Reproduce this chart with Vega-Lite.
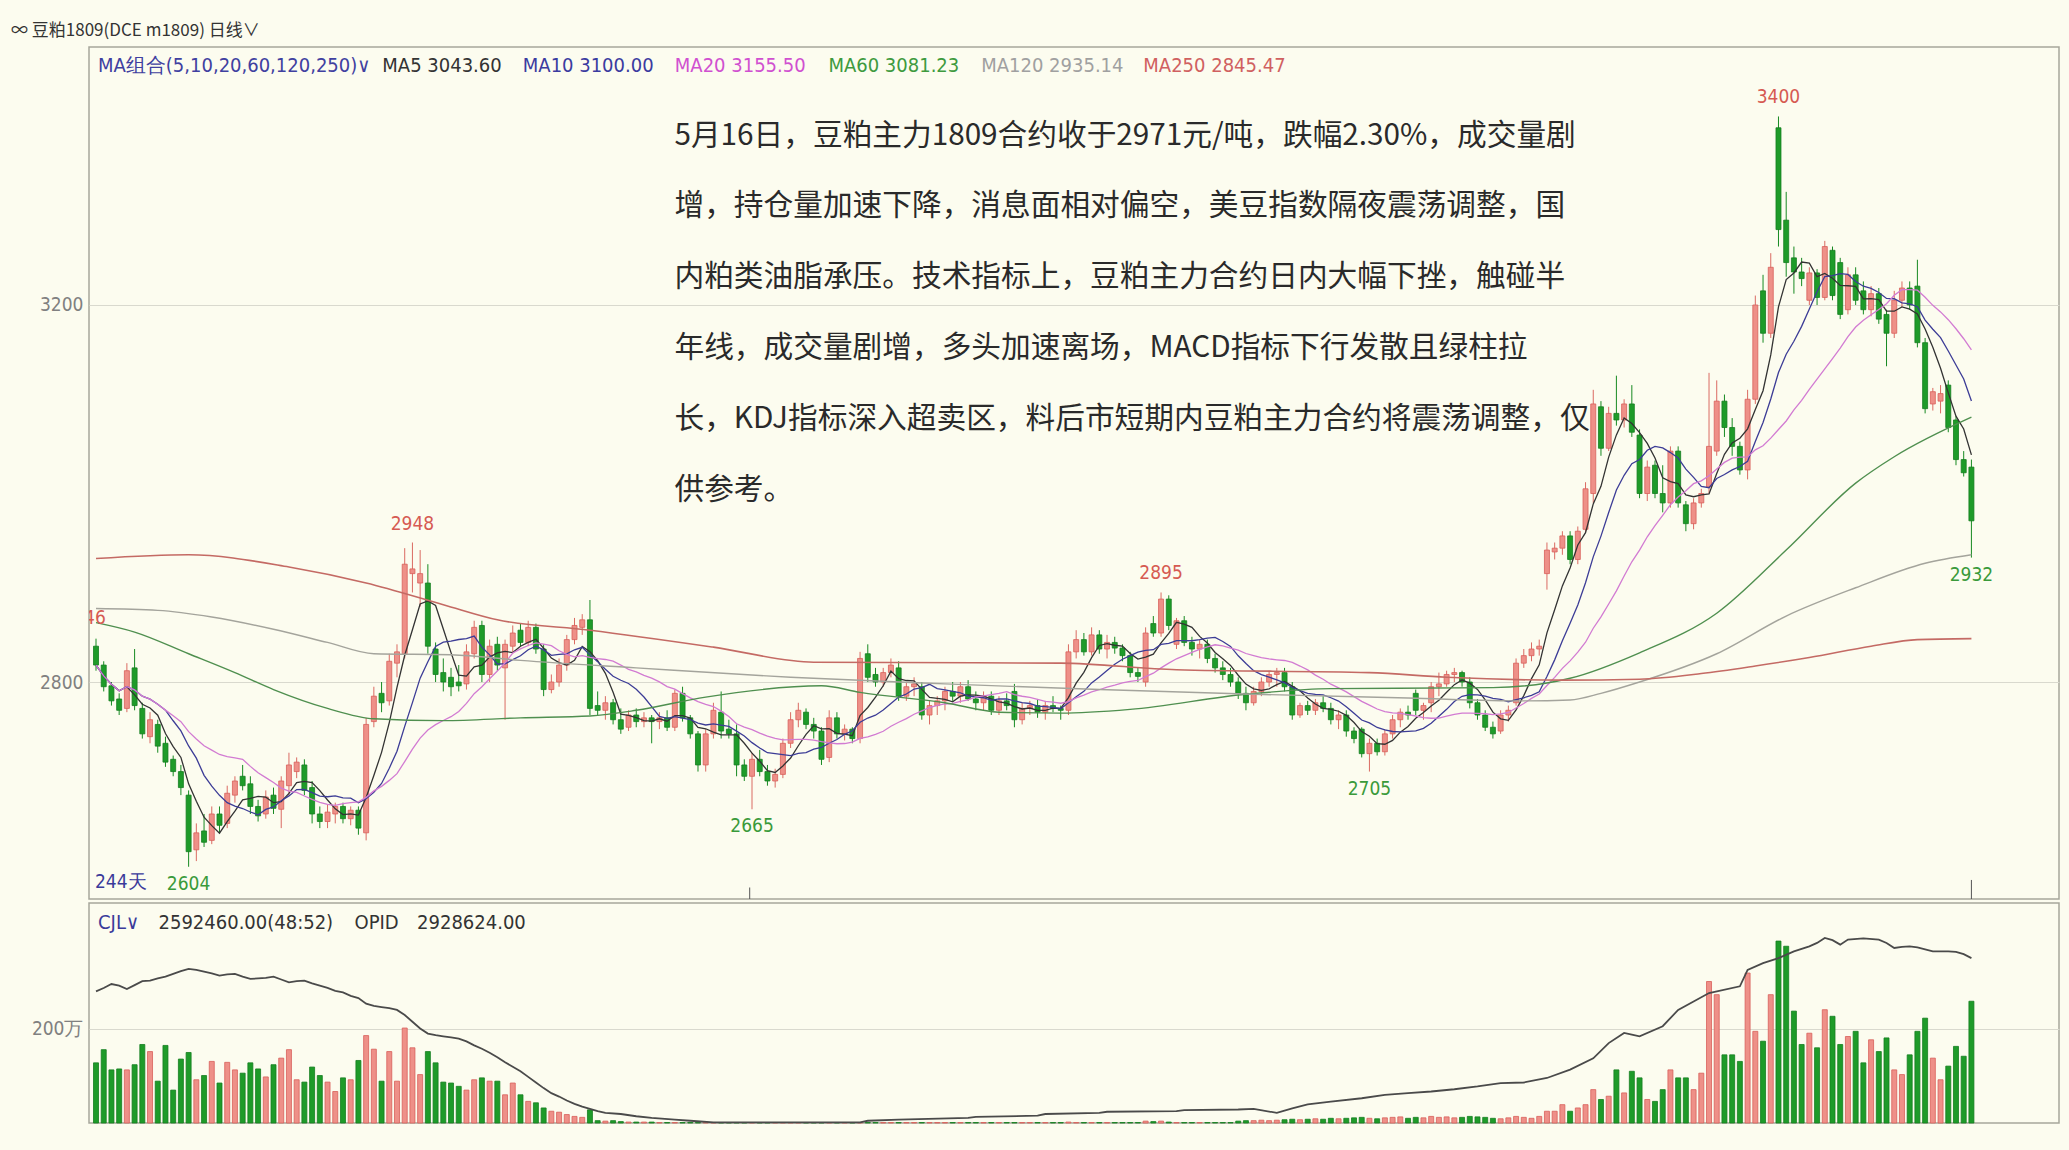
{
"$schema":"https://vega.github.io/schema/vega-lite/v6.json",
"background":"#FCFCEF",
"padding":{"left":10,"top":22,"right":11,"bottom":28},
"spacing":1,
"title":{"text":"∞ 豆粕1809(DCE m1809)  日线∨","anchor":"start","frame":"group","dx":-78,"fontSize":17,"font":"Noto Sans CJK SC","fontWeight":"normal","color":"#333333","offset":6},
"config":{"view":{"stroke":"#A6A69C","strokeWidth":1.5},"axis":{"title":null,"labelFont":"Liberation Sans Narrow, DejaVu Sans Condensed, sans-serif"},"text":{"font":"Liberation Sans Narrow, DejaVu Sans Condensed, sans-serif"}},
"datasets":{
"k":[
{"i":0,"o":2838,"h":2846,"l":2812,"c":2818,"v":128},{"i":1,"o":2818,"h":2822,"l":2790,"c":2795,"v":156},{"i":2,"o":2796,"h":2800,"l":2775,"c":2780,"v":113},{"i":3,"o":2782,"h":2788,"l":2765,"c":2770,"v":115},{"i":4,"o":2772,"h":2820,"l":2768,"c":2812,"v":113},{"i":5,"o":2815,"h":2835,"l":2770,"c":2775,"v":124},{"i":6,"o":2772,"h":2778,"l":2740,"c":2745,"v":167},{"i":7,"o":2742,"h":2768,"l":2735,"c":2760,"v":152},{"i":8,"o":2755,"h":2760,"l":2725,"c":2732,"v":89},{"i":9,"o":2735,"h":2742,"l":2710,"c":2715,"v":165},
{"i":10,"o":2718,"h":2722,"l":2700,"c":2705,"v":70},{"i":11,"o":2705,"h":2712,"l":2680,"c":2688,"v":136},{"i":12,"o":2680,"h":2685,"l":2604,"c":2620,"v":150},{"i":13,"o":2622,"h":2650,"l":2610,"c":2640,"v":92},{"i":14,"o":2642,"h":2660,"l":2625,"c":2630,"v":101},{"i":15,"o":2632,"h":2668,"l":2628,"c":2660,"v":131},{"i":16,"o":2660,"h":2668,"l":2640,"c":2648,"v":85},{"i":17,"o":2650,"h":2690,"l":2645,"c":2682,"v":129},{"i":18,"o":2680,"h":2700,"l":2672,"c":2695,"v":113},{"i":19,"o":2700,"h":2712,"l":2685,"c":2690,"v":106},
{"i":20,"o":2692,"h":2700,"l":2660,"c":2668,"v":128},{"i":21,"o":2668,"h":2675,"l":2652,"c":2658,"v":115},{"i":22,"o":2660,"h":2685,"l":2655,"c":2678,"v":98},{"i":23,"o":2680,"h":2688,"l":2660,"c":2666,"v":124},{"i":24,"o":2665,"h":2700,"l":2645,"c":2695,"v":138},{"i":25,"o":2690,"h":2725,"l":2680,"c":2712,"v":156},{"i":26,"o":2705,"h":2720,"l":2698,"c":2715,"v":92},{"i":27,"o":2712,"h":2718,"l":2680,"c":2685,"v":87},{"i":28,"o":2688,"h":2695,"l":2650,"c":2660,"v":119},{"i":29,"o":2660,"h":2668,"l":2645,"c":2652,"v":101},
{"i":30,"o":2652,"h":2670,"l":2645,"c":2662,"v":87},{"i":31,"o":2660,"h":2672,"l":2650,"c":2668,"v":67},{"i":32,"o":2668,"h":2672,"l":2650,"c":2655,"v":96},{"i":33,"o":2655,"h":2668,"l":2648,"c":2664,"v":92},{"i":34,"o":2664,"h":2668,"l":2638,"c":2645,"v":133},{"i":35,"o":2640,"h":2762,"l":2632,"c":2755,"v":186},{"i":36,"o":2758,"h":2795,"l":2752,"c":2785,"v":157},{"i":37,"o":2788,"h":2800,"l":2768,"c":2778,"v":89},{"i":38,"o":2780,"h":2830,"l":2775,"c":2822,"v":152},{"i":39,"o":2820,"h":2840,"l":2805,"c":2832,"v":89},
{"i":40,"o":2830,"h":2942,"l":2825,"c":2925,"v":202},{"i":41,"o":2915,"h":2948,"l":2895,"c":2920,"v":160},{"i":42,"o":2905,"h":2940,"l":2880,"c":2915,"v":103},{"i":43,"o":2905,"h":2925,"l":2830,"c":2838,"v":152},{"i":44,"o":2835,"h":2842,"l":2800,"c":2808,"v":128},{"i":45,"o":2810,"h":2825,"l":2790,"c":2800,"v":87},{"i":46,"o":2805,"h":2815,"l":2785,"c":2795,"v":85},{"i":47,"o":2800,"h":2818,"l":2790,"c":2796,"v":78},{"i":48,"o":2798,"h":2840,"l":2792,"c":2832,"v":70},{"i":49,"o":2830,"h":2865,"l":2825,"c":2858,"v":92},
{"i":50,"o":2860,"h":2865,"l":2800,"c":2808,"v":96},{"i":51,"o":2808,"h":2845,"l":2800,"c":2838,"v":89},{"i":52,"o":2840,"h":2848,"l":2812,"c":2818,"v":89},{"i":53,"o":2815,"h":2845,"l":2760,"c":2840,"v":60},{"i":54,"o":2838,"h":2860,"l":2830,"c":2852,"v":85},{"i":55,"o":2855,"h":2862,"l":2838,"c":2842,"v":60},{"i":56,"o":2842,"h":2865,"l":2838,"c":2858,"v":46},{"i":57,"o":2858,"h":2862,"l":2830,"c":2835,"v":43},{"i":58,"o":2835,"h":2840,"l":2785,"c":2792,"v":32},{"i":59,"o":2792,"h":2808,"l":2788,"c":2800,"v":25},
{"i":60,"o":2800,"h":2825,"l":2795,"c":2818,"v":23},{"i":61,"o":2818,"h":2850,"l":2812,"c":2845,"v":18},{"i":62,"o":2845,"h":2868,"l":2840,"c":2860,"v":14},{"i":63,"o":2858,"h":2872,"l":2850,"c":2866,"v":12},{"i":64,"o":2866,"h":2887,"l":2765,"c":2772,"v":28},{"i":65,"o":2775,"h":2790,"l":2765,"c":2770,"v":5},{"i":66,"o":2770,"h":2785,"l":2760,"c":2778,"v":4},{"i":67,"o":2778,"h":2782,"l":2755,"c":2760,"v":5},{"i":68,"o":2760,"h":2772,"l":2745,"c":2750,"v":3},{"i":69,"o":2752,"h":2770,"l":2748,"c":2765,"v":2},
{"i":70,"o":2765,"h":2772,"l":2752,"c":2758,"v":2},{"i":71,"o":2758,"h":2768,"l":2752,"c":2762,"v":2},{"i":72,"o":2762,"h":2765,"l":2735,"c":2758,"v":2},{"i":73,"o":2758,"h":2768,"l":2750,"c":2762,"v":1},{"i":74,"o":2762,"h":2770,"l":2748,"c":2752,"v":1},{"i":75,"o":2752,"h":2792,"l":2748,"c":2788,"v":1},{"i":76,"o":2788,"h":2795,"l":2758,"c":2762,"v":1},{"i":77,"o":2762,"h":2765,"l":2740,"c":2745,"v":1},{"i":78,"o":2745,"h":2748,"l":2705,"c":2712,"v":1},{"i":79,"o":2712,"h":2750,"l":2705,"c":2745,"v":1},
{"i":80,"o":2745,"h":2778,"l":2740,"c":2770,"v":1},{"i":81,"o":2768,"h":2790,"l":2740,"c":2748,"v":1},{"i":82,"o":2750,"h":2760,"l":2740,"c":2745,"v":1},{"i":83,"o":2745,"h":2755,"l":2700,"c":2712,"v":1},{"i":84,"o":2712,"h":2718,"l":2695,"c":2700,"v":1},{"i":85,"o":2700,"h":2725,"l":2665,"c":2718,"v":1},{"i":86,"o":2718,"h":2728,"l":2700,"c":2705,"v":1},{"i":87,"o":2705,"h":2712,"l":2690,"c":2695,"v":1},{"i":88,"o":2695,"h":2708,"l":2688,"c":2702,"v":1},{"i":89,"o":2702,"h":2740,"l":2698,"c":2735,"v":1},
{"i":90,"o":2735,"h":2768,"l":2730,"c":2760,"v":1},{"i":91,"o":2760,"h":2778,"l":2752,"c":2770,"v":1},{"i":92,"o":2768,"h":2772,"l":2750,"c":2755,"v":1},{"i":93,"o":2755,"h":2762,"l":2740,"c":2748,"v":1},{"i":94,"o":2748,"h":2752,"l":2712,"c":2718,"v":1},{"i":95,"o":2720,"h":2770,"l":2715,"c":2762,"v":1},{"i":96,"o":2762,"h":2768,"l":2740,"c":2745,"v":1},{"i":97,"o":2745,"h":2755,"l":2738,"c":2750,"v":1},{"i":98,"o":2750,"h":2752,"l":2735,"c":2740,"v":1},{"i":99,"o":2740,"h":2832,"l":2735,"c":2825,"v":1},
{"i":100,"o":2830,"h":2840,"l":2800,"c":2805,"v":1},{"i":101,"o":2808,"h":2815,"l":2795,"c":2800,"v":1},{"i":102,"o":2800,"h":2815,"l":2795,"c":2810,"v":1},{"i":103,"o":2810,"h":2825,"l":2805,"c":2818,"v":1},{"i":104,"o":2815,"h":2822,"l":2780,"c":2785,"v":1},{"i":105,"o":2785,"h":2800,"l":2780,"c":2795,"v":1},{"i":106,"o":2795,"h":2805,"l":2785,"c":2798,"v":1},{"i":107,"o":2795,"h":2800,"l":2760,"c":2765,"v":1},{"i":108,"o":2765,"h":2780,"l":2755,"c":2775,"v":1},{"i":109,"o":2775,"h":2785,"l":2765,"c":2780,"v":1},
{"i":110,"o":2780,"h":2795,"l":2770,"c":2790,"v":1},{"i":111,"o":2790,"h":2800,"l":2780,"c":2785,"v":1},{"i":112,"o":2785,"h":2800,"l":2778,"c":2795,"v":1},{"i":113,"o":2795,"h":2802,"l":2780,"c":2782,"v":1},{"i":114,"o":2782,"h":2790,"l":2770,"c":2778,"v":1},{"i":115,"o":2778,"h":2790,"l":2770,"c":2785,"v":1},{"i":116,"o":2785,"h":2790,"l":2765,"c":2770,"v":1},{"i":117,"o":2770,"h":2785,"l":2765,"c":2780,"v":1},{"i":118,"o":2780,"h":2788,"l":2770,"c":2775,"v":1},{"i":119,"o":2790,"h":2798,"l":2752,"c":2760,"v":1},
{"i":120,"o":2760,"h":2778,"l":2755,"c":2772,"v":1},{"i":121,"o":2772,"h":2780,"l":2765,"c":2775,"v":1},{"i":122,"o":2775,"h":2782,"l":2762,"c":2768,"v":1},{"i":123,"o":2768,"h":2780,"l":2760,"c":2775,"v":1},{"i":124,"o":2775,"h":2785,"l":2768,"c":2772,"v":1},{"i":125,"o":2772,"h":2775,"l":2760,"c":2770,"v":1},{"i":126,"o":2770,"h":2840,"l":2765,"c":2832,"v":2},{"i":127,"o":2832,"h":2855,"l":2825,"c":2845,"v":1},{"i":128,"o":2845,"h":2852,"l":2828,"c":2832,"v":1},{"i":129,"o":2832,"h":2858,"l":2828,"c":2850,"v":1},
{"i":130,"o":2850,"h":2855,"l":2830,"c":2835,"v":1},{"i":131,"o":2835,"h":2850,"l":2825,"c":2842,"v":1},{"i":132,"o":2842,"h":2848,"l":2830,"c":2836,"v":1},{"i":133,"o":2836,"h":2840,"l":2822,"c":2828,"v":1},{"i":134,"o":2828,"h":2832,"l":2805,"c":2810,"v":1},{"i":135,"o":2810,"h":2815,"l":2800,"c":2806,"v":1},{"i":136,"o":2800,"h":2858,"l":2795,"c":2852,"v":4},{"i":137,"o":2862,"h":2870,"l":2848,"c":2852,"v":3},{"i":138,"o":2852,"h":2895,"l":2848,"c":2888,"v":4},{"i":139,"o":2888,"h":2892,"l":2855,"c":2860,"v":2},
{"i":140,"o":2840,"h":2868,"l":2835,"c":2865,"v":1},{"i":141,"o":2865,"h":2870,"l":2838,"c":2842,"v":1},{"i":142,"o":2842,"h":2848,"l":2828,"c":2835,"v":1},{"i":143,"o":2835,"h":2845,"l":2825,"c":2840,"v":1},{"i":144,"o":2840,"h":2845,"l":2820,"c":2825,"v":1},{"i":145,"o":2825,"h":2830,"l":2810,"c":2815,"v":1},{"i":146,"o":2815,"h":2822,"l":2802,"c":2808,"v":1},{"i":147,"o":2808,"h":2815,"l":2795,"c":2800,"v":1},{"i":148,"o":2800,"h":2805,"l":2782,"c":2788,"v":4},{"i":149,"o":2788,"h":2795,"l":2770,"c":2778,"v":5},
{"i":150,"o":2778,"h":2795,"l":2775,"c":2790,"v":5},{"i":151,"o":2790,"h":2805,"l":2785,"c":2800,"v":6},{"i":152,"o":2800,"h":2812,"l":2795,"c":2808,"v":5},{"i":153,"o":2808,"h":2815,"l":2795,"c":2810,"v":6},{"i":154,"o":2810,"h":2815,"l":2790,"c":2795,"v":7},{"i":155,"o":2795,"h":2800,"l":2760,"c":2765,"v":8},{"i":156,"o":2765,"h":2778,"l":2762,"c":2775,"v":7},{"i":157,"o":2775,"h":2780,"l":2765,"c":2770,"v":8},{"i":158,"o":2770,"h":2782,"l":2765,"c":2778,"v":9},{"i":159,"o":2778,"h":2785,"l":2768,"c":2772,"v":8},
{"i":160,"o":2772,"h":2778,"l":2755,"c":2760,"v":10},{"i":161,"o":2760,"h":2770,"l":2750,"c":2765,"v":9},{"i":162,"o":2765,"h":2770,"l":2742,"c":2748,"v":10},{"i":163,"o":2748,"h":2752,"l":2735,"c":2740,"v":11},{"i":164,"o":2750,"h":2752,"l":2720,"c":2724,"v":12},{"i":165,"o":2724,"h":2740,"l":2705,"c":2735,"v":10},{"i":166,"o":2735,"h":2740,"l":2722,"c":2726,"v":9},{"i":167,"o":2726,"h":2750,"l":2722,"c":2745,"v":11},{"i":168,"o":2745,"h":2765,"l":2740,"c":2760,"v":12},{"i":169,"o":2760,"h":2772,"l":2752,"c":2768,"v":13},
{"i":170,"o":2768,"h":2775,"l":2760,"c":2765,"v":10},{"i":171,"o":2788,"h":2792,"l":2765,"c":2770,"v":12},{"i":172,"o":2770,"h":2778,"l":2760,"c":2775,"v":11},{"i":173,"o":2778,"h":2800,"l":2768,"c":2795,"v":14},{"i":174,"o":2795,"h":2810,"l":2785,"c":2798,"v":12},{"i":175,"o":2798,"h":2812,"l":2795,"c":2808,"v":13},{"i":176,"o":2808,"h":2815,"l":2800,"c":2810,"v":11},{"i":177,"o":2810,"h":2812,"l":2795,"c":2800,"v":12},{"i":178,"o":2800,"h":2805,"l":2772,"c":2778,"v":14},{"i":179,"o":2778,"h":2782,"l":2760,"c":2765,"v":13},
{"i":180,"o":2765,"h":2770,"l":2748,"c":2752,"v":12},{"i":181,"o":2752,"h":2758,"l":2740,"c":2745,"v":10},{"i":182,"o":2748,"h":2770,"l":2745,"c":2765,"v":9},{"i":183,"o":2765,"h":2775,"l":2758,"c":2770,"v":11},{"i":184,"o":2778,"h":2825,"l":2775,"c":2820,"v":14},{"i":185,"o":2820,"h":2835,"l":2815,"c":2828,"v":12},{"i":186,"o":2828,"h":2842,"l":2822,"c":2835,"v":10},{"i":187,"o":2835,"h":2845,"l":2828,"c":2838,"v":14},{"i":188,"o":2915,"h":2948,"l":2898,"c":2940,"v":25},{"i":189,"o":2938,"h":2948,"l":2930,"c":2942,"v":25},
{"i":190,"o":2942,"h":2960,"l":2935,"c":2955,"v":39},{"i":191,"o":2955,"h":2960,"l":2925,"c":2930,"v":25},{"i":192,"o":2930,"h":2965,"l":2925,"c":2960,"v":32},{"i":193,"o":2962,"h":3012,"l":2958,"c":3005,"v":39},{"i":194,"o":3000,"h":3110,"l":2990,"c":3095,"v":71},{"i":195,"o":3092,"h":3098,"l":3040,"c":3048,"v":50},{"i":196,"o":3048,"h":3092,"l":3045,"c":3085,"v":57},{"i":197,"o":3085,"h":3125,"l":3072,"c":3078,"v":113},{"i":198,"o":3078,"h":3100,"l":3070,"c":3095,"v":64},{"i":199,"o":3095,"h":3115,"l":3060,"c":3065,"v":110},
{"i":200,"o":3062,"h":3068,"l":2995,"c":3000,"v":96},{"i":201,"o":3000,"h":3035,"l":2992,"c":3028,"v":50},{"i":202,"o":3030,"h":3035,"l":2995,"c":3000,"v":46},{"i":203,"o":3000,"h":3030,"l":2980,"c":2990,"v":71},{"i":204,"o":2990,"h":3050,"l":2985,"c":3045,"v":113},{"i":205,"o":3045,"h":3050,"l":2985,"c":2990,"v":96},{"i":206,"o":2988,"h":2992,"l":2960,"c":2968,"v":96},{"i":207,"o":2968,"h":2995,"l":2962,"c":2990,"v":71},{"i":208,"o":2990,"h":3005,"l":2985,"c":3000,"v":106},{"i":209,"o":3007,"h":3128,"l":3000,"c":3050,"v":301},
{"i":210,"o":3045,"h":3120,"l":3040,"c":3098,"v":273},{"i":211,"o":3098,"h":3105,"l":3060,"c":3070,"v":145},{"i":212,"o":3070,"h":3080,"l":3040,"c":3050,"v":145},{"i":213,"o":3050,"h":3055,"l":3020,"c":3025,"v":131},{"i":214,"o":3025,"h":3110,"l":3015,"c":3100,"v":319},{"i":215,"o":3100,"h":3210,"l":3095,"c":3200,"v":195},{"i":216,"o":3215,"h":3232,"l":3160,"c":3170,"v":174},{"i":217,"o":3170,"h":3255,"l":3165,"c":3240,"v":273},{"i":218,"o":3388,"h":3400,"l":3262,"c":3280,"v":387},{"i":219,"o":3290,"h":3320,"l":3230,"c":3245,"v":376},
{"i":220,"o":3250,"h":3262,"l":3212,"c":3235,"v":238},{"i":221,"o":3235,"h":3250,"l":3220,"c":3228,"v":167},{"i":222,"o":3205,"h":3240,"l":3200,"c":3234,"v":191},{"i":223,"o":3234,"h":3238,"l":3200,"c":3208,"v":160},{"i":224,"o":3208,"h":3268,"l":3205,"c":3262,"v":241},{"i":225,"o":3258,"h":3262,"l":3205,"c":3210,"v":227},{"i":226,"o":3245,"h":3250,"l":3185,"c":3190,"v":167},{"i":227,"o":3195,"h":3240,"l":3190,"c":3232,"v":184},{"i":228,"o":3232,"h":3240,"l":3200,"c":3205,"v":195},{"i":229,"o":3215,"h":3225,"l":3190,"c":3195,"v":128},
{"i":230,"o":3195,"h":3220,"l":3188,"c":3212,"v":177},{"i":231,"o":3212,"h":3218,"l":3180,"c":3185,"v":152},{"i":232,"o":3190,"h":3195,"l":3135,"c":3170,"v":181},{"i":233,"o":3170,"h":3215,"l":3165,"c":3205,"v":113},{"i":234,"o":3205,"h":3225,"l":3198,"c":3218,"v":103},{"i":235,"o":3218,"h":3225,"l":3195,"c":3200,"v":145},{"i":236,"o":3220,"h":3248,"l":3155,"c":3160,"v":195},{"i":237,"o":3160,"h":3165,"l":3085,"c":3090,"v":223},{"i":238,"o":3095,"h":3112,"l":3088,"c":3108,"v":138},{"i":239,"o":3098,"h":3115,"l":3085,"c":3106,"v":92},
{"i":240,"o":3115,"h":3120,"l":3065,"c":3070,"v":121},{"i":241,"o":3078,"h":3082,"l":3030,"c":3036,"v":163},{"i":242,"o":3036,"h":3045,"l":3018,"c":3022,"v":142},{"i":243,"o":3028,"h":3036,"l":2932,"c":2971,"v":259}
],
"ma60":[{"i":0,"m":2863},{"i":5,"m":2853},{"i":12,"m":2830},{"i":18,"m":2810},{"i":23,"m":2792},{"i":30,"m":2772},{"i":36,"m":2761},{"i":45,"m":2759},{"i":55,"m":2762},{"i":64,"m":2764},{"i":70,"m":2770},{"i":79,"m":2784},{"i":94,"m":2796},{"i":99,"m":2789},{"i":110,"m":2778},{"i":117,"m":2768},{"i":125,"m":2767},{"i":134,"m":2771},{"i":149,"m":2787},{"i":160,"m":2793},{"i":181,"m":2794},{"i":191,"m":2804},{"i":200,"m":2831},{"i":210,"m":2873},{"i":219,"m":2940},{"i":228,"m":3011},{"i":233,"m":3039},{"i":243,"m":3081}],
"ma120":[{"i":0,"m":2878},{"i":8,"m":2876},{"i":15,"m":2869},{"i":23,"m":2856},{"i":30,"m":2842},{"i":36,"m":2830},{"i":46,"m":2829},{"i":55,"m":2823},{"i":70,"m":2815},{"i":90,"m":2805},{"i":110,"m":2798},{"i":130,"m":2792},{"i":150,"m":2787},{"i":170,"m":2783},{"i":185,"m":2780},{"i":191,"m":2781},{"i":195,"m":2788},{"i":200,"m":2800},{"i":210,"m":2830},{"i":219,"m":2870},{"i":228,"m":2900},{"i":237,"m":2926},{"i":243,"m":2935}],
"ma250":[{"i":0,"m":2931},{"i":12,"m":2935},{"i":25,"m":2922},{"i":35,"m":2905},{"i":45,"m":2882},{"i":52,"m":2866},{"i":64,"m":2855},{"i":80,"m":2837},{"i":93,"m":2821},{"i":125,"m":2820},{"i":140,"m":2813},{"i":165,"m":2810},{"i":175,"m":2805},{"i":190,"m":2802},{"i":200,"m":2803},{"i":208,"m":2809},{"i":215,"m":2817},{"i":222,"m":2826},{"i":230,"m":2838},{"i":236,"m":2845},{"i":243,"m":2846}],
"oi":[{"i":0,"m":234},{"i":1,"m":240},{"i":2,"m":247},{"i":3,"m":244},{"i":4,"m":238},{"i":5,"m":245},{"i":6,"m":252},{"i":7,"m":253},{"i":8,"m":257},{"i":9,"m":260},{"i":10,"m":265},{"i":11,"m":270},{"i":12,"m":274},{"i":13,"m":272},{"i":14,"m":269},{"i":15,"m":266},{"i":16,"m":262},{"i":17,"m":264},{"i":18,"m":265},{"i":19,"m":260},{"i":20,"m":256},{"i":21,"m":257},{"i":22,"m":258},{"i":23,"m":260},{"i":24,"m":255},{"i":25,"m":250},{"i":26,"m":252},{"i":27,"m":253},{"i":28,"m":248},{"i":29,"m":244},{"i":30,"m":240},{"i":31,"m":235},{"i":32,"m":232},{"i":33,"m":226},{"i":34,"m":222},{"i":35,"m":212},{"i":36,"m":208},{"i":37,"m":206},{"i":38,"m":204},{"i":39,"m":201},{"i":40,"m":192},{"i":41,"m":180},{"i":42,"m":168},{"i":43,"m":159},{"i":44,"m":156},{"i":45,"m":154},{"i":46,"m":152},{"i":47,"m":150},{"i":48,"m":145},{"i":49,"m":138},{"i":50,"m":132},{"i":51,"m":125},{"i":52,"m":117},{"i":53,"m":108},{"i":54,"m":100},{"i":55,"m":92},{"i":56,"m":82},{"i":57,"m":72},{"i":58,"m":62},{"i":59,"m":53},{"i":60,"m":47},{"i":61,"m":40},{"i":62,"m":34},{"i":63,"m":29},{"i":64,"m":25},{"i":65,"m":21},{"i":66,"m":18},{"i":68,"m":16},{"i":70,"m":12},{"i":72,"m":9},{"i":75,"m":6},{"i":77,"m":4},{"i":80,"m":1},{"i":99,"m":1},{"i":100,"m":4},{"i":104,"m":6},{"i":113,"m":9},{"i":114,"m":11},{"i":122,"m":13},{"i":123,"m":16},{"i":130,"m":18},{"i":131,"m":20},{"i":140,"m":21},{"i":141,"m":23},{"i":148,"m":24},{"i":150,"m":25},{"i":153,"m":18},{"i":155,"m":26},{"i":157,"m":33},{"i":160,"m":38},{"i":164,"m":44},{"i":167,"m":50},{"i":170,"m":53},{"i":173,"m":56},{"i":176,"m":60},{"i":179,"m":65},{"i":182,"m":71},{"i":185,"m":72},{"i":188,"m":80},{"i":191,"m":95},{"i":194,"m":115},{"i":196,"m":142},{"i":198,"m":160},{"i":199,"m":157},{"i":200,"m":154},{"i":203,"m":172},{"i":205,"m":201},{"i":207,"m":216},{"i":209,"m":231},{"i":213,"m":243},{"i":214,"m":272},{"i":216,"m":284},{"i":218,"m":293},{"i":220,"m":305},{"i":222,"m":314},{"i":223,"m":320},{"i":224,"m":329},{"i":225,"m":325},{"i":226,"m":317},{"i":227,"m":326},{"i":229,"m":328},{"i":231,"m":326},{"i":232,"m":320},{"i":233,"m":311},{"i":234,"m":313},{"i":235,"m":314},{"i":236,"m":312},{"i":238,"m":305},{"i":240,"m":305},{"i":241,"m":304},{"i":242,"m":300},{"i":243,"m":293}],
"hi":[{"i":41,"p":2948},{"i":138,"p":2895},{"i":218,"p":3400}],
"hi0":[{"i":0,"p":2846}],
"lo":[{"i":12,"p":2604},{"i":85,"p":2665},{"i":165,"p":2705},{"i":243,"p":2932}]
},
"vconcat":[
{
"width":1970,"height":852,
"layer":[
{"data":{"name":"k"},"mark":{"type":"rule","strokeWidth":1},
 "encoding":{"x":{"field":"i","type":"quantitative","scale":{"domain":[-0.26,253.7],"nice":false,"zero":false},"axis":null},
  "y":{"field":"l","type":"quantitative","scale":{"domain":[2569.8,3473.7],"nice":false,"zero":false},
   "axis":{"values":[2800,3200],"format":"d","grid":true,"gridColor":"#D9D9CE","gridWidth":1,"domain":false,"ticks":false,"labelColor":"#808080","labelFontSize":19,"labelPadding":6,"minExtent":78,"maxExtent":78}},
  "y2":{"field":"h"},
  "color":{"condition":{"test":"datum.c >= datum.o","value":"#DA6A62"},"value":"#178A22"}}},
{"data":{"name":"k"},"mark":{"type":"bar","size":5,"strokeWidth":0.8},
 "encoding":{"x":{"field":"i","type":"quantitative"},"y":{"field":"o","type":"quantitative"},"y2":{"field":"c"},
  "fill":{"condition":{"test":"datum.c >= datum.o","value":"#EE9088"},"value":"#1E9B29"},
  "stroke":{"condition":{"test":"datum.c >= datum.o","value":"#D8605A"},"value":"#147D1F"}}},
{"data":{"name":"k"},"transform":[{"window":[{"op":"mean","field":"c","as":"m"}],"frame":[-4,0],"sort":[{"field":"i"}]}],
 "mark":{"type":"line","color":"#333333","strokeWidth":1.3},"encoding":{"x":{"field":"i","type":"quantitative"},"y":{"field":"m","type":"quantitative"}}},
{"data":{"name":"k"},"transform":[{"window":[{"op":"mean","field":"c","as":"m"}],"frame":[-9,0],"sort":[{"field":"i"}]}],
 "mark":{"type":"line","color":"#3C3C96","strokeWidth":1.3},"encoding":{"x":{"field":"i","type":"quantitative"},"y":{"field":"m","type":"quantitative"}}},
{"data":{"name":"k"},"transform":[{"window":[{"op":"mean","field":"c","as":"m"}],"frame":[-19,0],"sort":[{"field":"i"}]}],
 "mark":{"type":"line","color":"#D27BD2","strokeWidth":1.3},"encoding":{"x":{"field":"i","type":"quantitative"},"y":{"field":"m","type":"quantitative"}}},
{"data":{"name":"ma60"},"mark":{"type":"line","color":"#4F8F4F","strokeWidth":1.4,"interpolate":"monotone"},"encoding":{"x":{"field":"i","type":"quantitative"},"y":{"field":"m","type":"quantitative"}}},
{"data":{"name":"ma120"},"mark":{"type":"line","color":"#A4A49C","strokeWidth":1.4,"interpolate":"monotone"},"encoding":{"x":{"field":"i","type":"quantitative"},"y":{"field":"m","type":"quantitative"}}},
{"data":{"name":"ma250"},"mark":{"type":"line","color":"#C46A64","strokeWidth":1.6,"interpolate":"monotone"},"encoding":{"x":{"field":"i","type":"quantitative"},"y":{"field":"m","type":"quantitative"}}},
{"data":{"values":[{}]},"mark":{"type":"rule","color":"#555555","strokeWidth":1},"encoding":{"x":{"datum":84.7,"type":"quantitative"},"y":{"datum":2569.8,"type":"quantitative"},"y2":{"datum":2582}}},
{"data":{"values":[{}]},"mark":{"type":"rule","color":"#555555","strokeWidth":1},"encoding":{"x":{"datum":243,"type":"quantitative"},"y":{"datum":2569.8,"type":"quantitative"},"y2":{"datum":2590}}},
{"data":{"name":"hi"},"mark":{"type":"text","fontSize":19,"color":"#D65A52","baseline":"middle","dy":-19},"encoding":{"x":{"field":"i","type":"quantitative"},"y":{"field":"p","type":"quantitative"},"text":{"field":"p","type":"quantitative","format":"d"}}},
{"data":{"name":"hi0"},"mark":{"type":"text","clip":true,"fontSize":19,"color":"#D65A52","baseline":"middle","dy":-21,"dx":-12},"encoding":{"x":{"field":"i","type":"quantitative"},"y":{"field":"p","type":"quantitative"},"text":{"field":"p","type":"quantitative","format":"d"}}},
{"data":{"name":"lo"},"mark":{"type":"text","fontSize":19,"color":"#3A9A3A","baseline":"middle","dy":17},"encoding":{"x":{"field":"i","type":"quantitative"},"y":{"field":"p","type":"quantitative"},"text":{"field":"p","type":"quantitative","format":"d"}}},
{"data":{"values":[{}]},"mark":{"type":"text","text":"244天","align":"left","baseline":"middle","fontSize":19,"color":"#3A3A9A","dx":1},"encoding":{"x":{"datum":-0.26,"type":"quantitative"},"y":{"datum":2587.8,"type":"quantitative"}}},
{"data":{"values":[{}]},"mark":{"type":"text","text":"MA组合(5,10,20,60,120,250)∨","align":"left","baseline":"middle","fontSize":20,"color":"#4040A0"},"encoding":{"x":{"datum":0.26,"type":"quantitative"},"y":{"datum":3453.5,"type":"quantitative"}}},
{"data":{"values":[{}]},"mark":{"type":"text","text":"MA5 3043.60","align":"left","baseline":"middle","fontSize":20,"color":"#333333"},"encoding":{"x":{"datum":37.1,"type":"quantitative"},"y":{"datum":3453.5,"type":"quantitative"}}},
{"data":{"values":[{}]},"mark":{"type":"text","text":"MA10 3100.00","align":"left","baseline":"middle","fontSize":20,"color":"#3B3BA0"},"encoding":{"x":{"datum":55.3,"type":"quantitative"},"y":{"datum":3453.5,"type":"quantitative"}}},
{"data":{"values":[{}]},"mark":{"type":"text","text":"MA20 3155.50","align":"left","baseline":"middle","fontSize":20,"color":"#D050D0"},"encoding":{"x":{"datum":75.0,"type":"quantitative"},"y":{"datum":3453.5,"type":"quantitative"}}},
{"data":{"values":[{}]},"mark":{"type":"text","text":"MA60 3081.23","align":"left","baseline":"middle","fontSize":20,"color":"#3E9A3E"},"encoding":{"x":{"datum":94.9,"type":"quantitative"},"y":{"datum":3453.5,"type":"quantitative"}}},
{"data":{"values":[{}]},"mark":{"type":"text","text":"MA120 2935.14","align":"left","baseline":"middle","fontSize":20,"color":"#A0A0A0"},"encoding":{"x":{"datum":114.7,"type":"quantitative"},"y":{"datum":3453.5,"type":"quantitative"}}},
{"data":{"values":[{}]},"mark":{"type":"text","text":"MA250 2845.47","align":"left","baseline":"middle","fontSize":20,"color":"#D06060"},"encoding":{"x":{"datum":135.7,"type":"quantitative"},"y":{"datum":3453.5,"type":"quantitative"}}},
{"data":{"values":[{}]},"mark":{"type":"text","text":["5月16日，豆粕主力1809合约收于2971元/吨，跌幅2.30%，成交量剧","增，持仓量加速下降，消息面相对偏空，美豆指数隔夜震荡调整，国","内粕类油脂承压。技术指标上，豆粕主力合约日内大幅下挫，触碰半","年线，成交量剧增，多头加速离场，MACD指标下行发散且绿柱拉","长，KDJ指标深入超卖区，料后市短期内豆粕主力合约将震荡调整，仅","供参考。"],"align":"left","baseline":"top","fontSize":29.7,"lineHeight":70.8,"font":"Noto Sans CJK SC","color":"#2A2A2A"},
 "encoding":{"x":{"datum":74.95,"type":"quantitative"},"y":{"datum":3394.5,"type":"quantitative"}}}
]
},
{
"width":1970,"height":220,
"layer":[
{"layer":[
 {"data":{"name":"k"},"mark":{"type":"bar","size":5,"strokeWidth":0.8},
  "encoding":{"x":{"field":"i","type":"quantitative","scale":{"domain":[-0.26,253.7],"nice":false,"zero":false},"axis":null},
   "y":{"field":"v","type":"quantitative","scale":{"domain":[0,468],"nice":false},
    "axis":{"values":[200],"labelExpr":"'200万'","grid":true,"gridColor":"#D9D9CE","gridWidth":1,"domain":false,"ticks":false,"labelColor":"#808080","labelFontSize":19,"labelPadding":6,"minExtent":78,"maxExtent":78}},
   "fill":{"condition":{"test":"datum.c >= datum.o","value":"#EE9088"},"value":"#1E9B29"},
   "stroke":{"condition":{"test":"datum.c >= datum.o","value":"#D8605A"},"value":"#147D1F"}}},
 {"data":{"values":[{}]},"mark":{"type":"text","text":"CJL∨","align":"left","baseline":"middle","fontSize":20,"color":"#3A3A9A"},"encoding":{"x":{"datum":0.26,"type":"quantitative"},"y":{"datum":425.5,"type":"quantitative"}}},
 {"data":{"values":[{}]},"mark":{"type":"text","text":"2592460.00(48:52)","align":"left","baseline":"middle","fontSize":20,"color":"#333333"},"encoding":{"x":{"datum":8.1,"type":"quantitative"},"y":{"datum":425.5,"type":"quantitative"}}},
 {"data":{"values":[{}]},"mark":{"type":"text","text":"OPID","align":"left","baseline":"middle","fontSize":20,"color":"#333333"},"encoding":{"x":{"datum":33.5,"type":"quantitative"},"y":{"datum":425.5,"type":"quantitative"}}},
 {"data":{"values":[{}]},"mark":{"type":"text","text":"2928624.00","align":"left","baseline":"middle","fontSize":20,"color":"#333333"},"encoding":{"x":{"datum":41.6,"type":"quantitative"},"y":{"datum":425.5,"type":"quantitative"}}}
]},
{"data":{"name":"oi"},"mark":{"type":"line","color":"#4A4A4A","strokeWidth":1.8},
 "encoding":{"x":{"field":"i","type":"quantitative"},"y":{"field":"m","type":"quantitative","scale":{"domain":[0,391],"nice":false},"axis":null}}}
],
"resolve":{"scale":{"y":"independent"}}
}
]
}
